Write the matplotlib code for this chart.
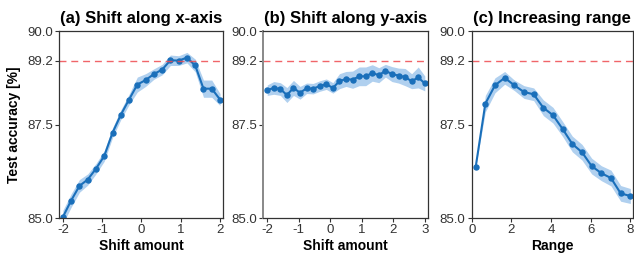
import numpy as np
import matplotlib.pyplot as plt

plt.rcParams['font.family'] = ['Liberation Sans', 'DejaVu Sans']
plt.rcParams['axes.unicode_minus'] = False

# Panel (a): shift along x-axis
shift_x = np.linspace(-2, 2, 20)
acc_x = [85.03, 85.47, 85.86, 86.03, 86.32, 86.66, 87.28, 87.76, 88.17, 88.57,
         88.69, 88.85, 88.97, 89.22, 89.21, 89.29, 89.08, 88.46, 88.46, 88.17]
std_x = [0.18, 0.18, 0.17, 0.15, 0.14, 0.14, 0.13, 0.13, 0.14, 0.2,
         0.17, 0.14, 0.14, 0.14, 0.13, 0.14, 0.17, 0.23, 0.23, 0.16]

# Panel (b): shift along y-axis
shift_y = np.linspace(-2, 3, 25)
acc_y = [88.42, 88.48, 88.45, 88.29, 88.48, 88.35, 88.47, 88.46, 88.53, 88.58,
         88.48, 88.66, 88.72, 88.70, 88.79, 88.79, 88.88, 88.82, 88.94, 88.85,
         88.81, 88.77, 88.66, 88.76, 88.60]
std_y = [0.14, 0.17, 0.17, 0.2, 0.2, 0.17, 0.14, 0.14, 0.14, 0.14,
         0.14, 0.2, 0.2, 0.23, 0.25, 0.25, 0.22, 0.2, 0.17, 0.2,
         0.2, 0.23, 0.2, 0.28, 0.2]

# Panel (c): increasing range
ranges = np.linspace(0.2, 8, 17)
acc_r = [86.36, 88.06, 88.55, 88.75, 88.55, 88.37, 88.31, 87.95, 87.75, 87.38,
         86.98, 86.76, 86.39, 86.20, 86.07, 85.66, 85.59]
std_r = [0.0, 0.22, 0.2, 0.17, 0.14, 0.17, 0.17, 0.21, 0.21, 0.2,
         0.21, 0.21, 0.21, 0.2, 0.21, 0.21, 0.2]

baseline = 89.2

panels = [
    ('(a) Shift along x-axis', 'Shift amount', shift_x, acc_x, std_x, [-2, -1, 0, 1, 2], (-2.1, 2.08)),
    ('(b) Shift along y-axis', 'Shift amount', shift_y, acc_y, std_y, [-2, -1, 0, 1, 2, 3], (-2.13, 3.1)),
    ('(c) Increasing range', 'Range', ranges, acc_r, std_r, [0, 2, 4, 6, 8], (0, 8.12)),
]
lefts = [0.093, 0.415, 0.744]
widths = [0.259, 0.26, 0.254]

fig = plt.figure(figsize=(6.34, 2.59), dpi=100)
line_c = '#1a6fba'
band_c = '#b0d0ef'

for i, (title, xlabel, x, y, s, xt, xl) in enumerate(panels):
    ax = fig.add_axes([lefts[i], 0.158, widths[i], 0.722])
    y = np.array(y)
    s = np.array(s)
    ax.fill_between(x, y - s, y + s, color=band_c, linewidth=0)
    ax.plot(x, y, color=line_c, lw=1.5, marker='o', ms=3.6)
    ax.axhline(baseline, color='#ee4a4f', lw=1.0, ls=(0, (5, 3.5)), alpha=0.85)
    ax.set_ylim(85, 90)
    ax.set_yticks([85.0, 87.5, 89.2, 90.0])
    ax.set_yticklabels(['85.0', '87.5', '89.2', '90.0'])
    ax.set_xlim(*xl)
    ax.set_xticks(xt)
    ax.set_title(title, fontsize=12, fontweight='bold', pad=6)
    ax.set_xlabel(xlabel, fontsize=10, fontweight='bold', labelpad=2)
    if i == 0:
        ax.set_ylabel('Test accuracy [%]', fontsize=10, fontweight='bold')
    ax.tick_params(labelsize=9.5, length=3, width=0.8, pad=1.5, colors='#333333')
    for sp in ax.spines.values():
        sp.set_color('#333333')
        sp.set_linewidth(0.9)
    if i == 1:
        ax.spines['left'].set_color('#888888')
        ax.spines['left'].set_linewidth(1.4)

fig.savefig('out.png', dpi=100)
